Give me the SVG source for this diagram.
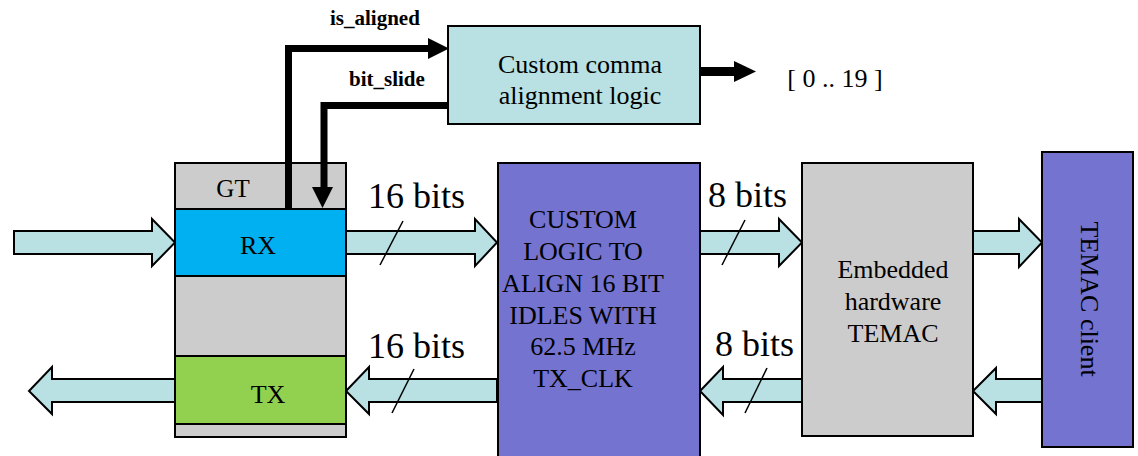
<svg xmlns="http://www.w3.org/2000/svg" width="1138" height="456" viewBox="0 0 1138 456" font-family="'Liberation Serif', 'DejaVu Serif', serif">
  <style>
    .box { stroke: #000; stroke-width: 2; }
    .gray { fill: #cccccc; }
    .cyan { fill: #b9e0e3; }
    .purple { fill: #7473cf; }
    .rx { fill: #00b0f0; }
    .tx { fill: #92d050; }
    .bus { fill: #b9e0e3; stroke: #000; stroke-width: 2; stroke-linejoin: miter; }
    .tick { stroke: #000; stroke-width: 1.5; fill: none; }
    .sig { stroke: #000; stroke-width: 7; fill: none; stroke-linejoin: miter; }
    .t { font-family: 'Liberation Serif', 'DejaVu Serif', serif; fill: #000; }
    .lbl { font-size: 26px; text-anchor: middle; }
    .bits { font-size: 36px; }
    .bold { font-size: 21px; font-weight: bold; }
  </style>

  <!-- connectors: wide buses, bit-width ticks and control signals -->
  <g id="connectors">
    <!-- serial input into RX -->
    <polygon class="bus" points="14,231 152,231 152,219 175,242.5 152,266 152,254 14,254"/>
    <!-- RX to custom logic, 16 bits -->
    <polygon class="bus" points="346,231 475,231 475,219 497,242.5 475,266 475,254 346,254"/>
    <!-- custom logic to TEMAC, 8 bits -->
    <polygon class="bus" points="700,231 779,231 779,219 802,242.5 779,266 779,254 700,254"/>
    <!-- TEMAC to client -->
    <polygon class="bus" points="973,231 1019,231 1019,219 1042,242.5 1019,267 1019,254 973,254"/>
    <!-- client to TEMAC -->
    <polygon class="bus" points="1042,379 996,379 996,368 973,391 996,414 996,402 1042,402"/>
    <!-- TEMAC to custom logic, 8 bits -->
    <polygon class="bus" points="802,379 723,379 723,367 700,391 723,415 723,402 802,402"/>
    <!-- custom logic to TX, 16 bits -->
    <polygon class="bus" points="497,379 369,379 369,367 346,391 369,414 369,402 497,402"/>
    <!-- serial output from TX -->
    <polygon class="bus" points="175,379 52,379 52,367 29,391 52,414 52,402 175,402"/>

    <line class="tick" x1="403" y1="221" x2="380" y2="265"/>
    <line class="tick" x1="414" y1="369" x2="392" y2="413"/>
    <line class="tick" x1="745" y1="220" x2="722" y2="265"/>
    <line class="tick" x1="767" y1="368" x2="745" y2="413"/>

    <!-- is_aligned: RX up to comma logic -->
    <polyline class="sig" points="288.5,209 288.5,48.5 430,48.5"/>
    <polygon points="428,38 449,48.5 428,59"/>
    <!-- bit_slide: comma logic down to RX -->
    <polyline class="sig" points="448,105.5 324,105.5 324,189"/>
    <polygon points="312,187 333,187 322.5,208"/>
    <!-- comma logic output -->
    <line class="sig" x1="700" y1="71.5" x2="736" y2="71.5" style="stroke-width:9"/>
    <polygon points="734,61 756,71.5 734,82"/>
  </g>

  <text class="t bits" x="368" y="208">16 bits</text>
  <text class="t bits" x="368" y="358">16 bits</text>
  <text class="t bits" x="708" y="207">8 bits</text>
  <text class="t bits" x="715" y="356">8 bits</text>
  <text class="t bold" x="330" y="25">is_aligned</text>
  <text class="t bold" x="349" y="86">bit_slide</text>
  <text class="t lbl" x="835" y="87">[ 0 .. 19 ]</text>

  <!-- GT transceiver with RX and TX sections -->
  <g id="gt">
    <rect class="box gray" x="175" y="163" width="171" height="274"/>
    <text class="t lbl" x="233" y="197" style="font-size:25px">GT</text>
  </g>
  <g id="rx">
    <rect class="box rx" x="175" y="209" width="171" height="67"/>
    <text class="t lbl" x="258" y="254">RX</text>
  </g>
  <g id="tx">
    <rect class="box tx" x="175" y="356" width="171" height="68"/>
    <text class="t lbl" x="268" y="403">TX</text>
  </g>

  <!-- signal stubs drawn over the GT header -->
  <line class="sig" x1="288.5" y1="163" x2="288.5" y2="209"/>
  <line class="sig" x1="324" y1="163" x2="324" y2="189"/>
  <polygon points="312,187 333,187 322.5,208"/>

  <g id="comma-logic">
    <rect class="box cyan" x="448" y="26" width="252" height="98"/>
    <text class="t lbl" x="580" y="73">Custom comma</text>
    <text class="t lbl" x="580" y="104">alignment logic</text>
  </g>

  <g id="custom-logic">
    <rect class="box purple" x="498" y="163" width="202" height="300"/>
    <text class="t lbl" x="583" y="228">CUSTOM</text>
    <text class="t lbl" x="583" y="260">LOGIC TO</text>
    <text class="t lbl" x="583" y="292">ALIGN 16 BIT</text>
    <text class="t lbl" x="583" y="324">IDLES WITH</text>
    <text class="t lbl" x="583" y="355">62.5 MHz</text>
    <text class="t lbl" x="583" y="387">TX_CLK</text>
  </g>

  <g id="temac">
    <rect class="box gray" x="802" y="163" width="171" height="273"/>
    <text class="t lbl" x="893" y="278">Embedded</text>
    <text class="t lbl" x="893" y="310">hardware</text>
    <text class="t lbl" x="893" y="342">TEMAC</text>
  </g>

  <g id="temac-client">
    <rect class="box purple" x="1042" y="152" width="91" height="295"/>
    <text class="t lbl" transform="translate(1081,299) rotate(90)">TEMAC client</text>
  </g>
</svg>
